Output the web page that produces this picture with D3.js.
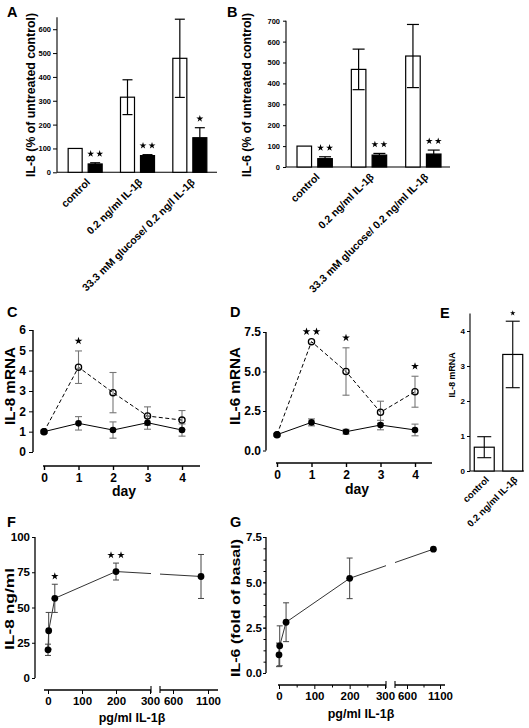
<!DOCTYPE html>
<html><head><meta charset="utf-8">
<script src="https://cdn.jsdelivr.net/npm/d3@7"></script>
<style>
body{margin:0;background:#fff}
svg{display:block}
text{font-family:"Liberation Sans",Arial,Helvetica,sans-serif;font-weight:bold;fill:#000}
</style></head><body>
<svg id="fig" width="529" height="728"></svg>
<script>
// ---------------- data ----------------
const catsA = ["control", "0.2 ng/ml IL-1β", "33.3 mM glucose/ 0.2 ng/l IL-1β"];
const il8WhiteA = [100, 315, 478];
const il8WhiteErrA = [0, 73, 164];
const il8BlackA = [35, 70, 145];
const il8BlackErrA = [5, 4, 42];
const il8StarsA = [2, 2, 1];
const ticksA = [0, 100, 200, 300, 400, 500, 600];

const catsB = ["control", "0.2 ng/ml IL-1β", "33.3 mM glucose/ 0.2 ng/ml IL-1β"];
const il6WhiteB = [100, 467, 531];
const il6WhiteErrB = [0, 97, 151];
const il6BlackB = [40, 57, 62];
const il6BlackErrB = [9, 8, 19];
const il6StarsB = [2, 2, 2];
const ticksB = [0, 100, 200, 300, 400, 500, 600, 700];

const days = [0, 1, 2, 3, 4];
const il8OpenC = [1.0, 4.17, 2.92, 1.77, 1.57];
const il8OpenErrC = [0, 0.8, 0.99, 0.45, 0.47];
const il8FilledC = [1.0, 1.41, 1.08, 1.44, 1.08];
const il8FilledErrC = [0.08, 0.33, 0.4, 0.32, 0.3];
const il8StarsC = [0, 1, 0, 0, 0];
const ticksC = [0, 1, 2, 3, 4, 5, 6];

const il6OpenD = [1.0, 6.89, 5.0, 2.42, 3.72];
const il6OpenErrD = [0, 0, 1.5, 0.7, 0.98];
const il6FilledD = [1.0, 1.78, 1.19, 1.61, 1.3];
const il6FilledErrD = [0.08, 0.22, 0.15, 0.3, 0.37];
const il6StarsD = [0, 2, 1, 0, 1];
const ticksD = [0, 2.5, 5, 7.5];

const catsE = ["control", "0.2 ng/ml IL-1β"];
const il8E = [0.68, 3.33];
const il8ErrE = [0.3, 0.95];
const il8StarsE = [0, 1];
const ticksE = [0, 1, 2, 3, 4];

const doses = [0, 2, 20, 200, 1000];
const il8F = [20, 33.5, 56.5, 75.5, 72];
const il8ErrF = [4, 13, 10, 6, 15.6];
const il8StarsF = [0, 0, 1, 2, 0];
const ticksFy = [0, 25, 50, 75, 100];
const il6G = [1.0, 1.5, 2.8, 5.22, 6.83];
const il6ErrG = [0.65, 1.1, 1.07, 1.12, 0];
const il6StarsG = [0, 0, 0, 0, 0];
const ticksGy = [0, 2.5, 5, 7.5];
const doseTicks1 = [0, 100, 200, 300];
const doseTicks2 = [600, 1100];

// ---------------- helpers ----------------
const FONT = '"Liberation Sans", Arial, Helvetica, sans-serif';
const fmtInt = d3.format("d");
const svg = d3.select("#fig");
svg.append("rect").attr("width", 529).attr("height", 728).attr("fill", "#fff");

function ln(x1, y1, x2, y2, stroke = "#000", w = 1.1) {
  return svg.append("line").attr("x1", x1).attr("y1", y1).attr("x2", x2).attr("y2", y2)
    .attr("stroke", stroke).attr("stroke-width", w);
}
function styleAxis(g, fs) {
  g.attr("font-size", fs).attr("font-family", FONT).attr("font-weight", "bold");
  g.select(".domain").remove();
  g.selectAll(".tick line").attr("stroke", "#000").attr("stroke-width", 1);
  g.selectAll(".tick text").attr("fill", "#000");
}
function panelLabel(t, x, y) {
  svg.append("text").attr("x", x).attr("y", y).attr("font-size", 14.5).text(t);
}
function yLabel(t, x, cy, fs, len) {
  const el = svg.append("text").attr("transform", `translate(${x},${cy}) rotate(-90)`)
    .attr("text-anchor", "middle").attr("font-size", fs).text(t);
  if (len) el.attr("textLength", len).attr("lengthAdjust", "spacingAndGlyphs");
}
function hLabel(t, cx, y, fs) {
  svg.append("text").attr("x", cx).attr("y", y).attr("text-anchor", "middle").attr("font-size", fs).text(t);
}
function addStars(n, cx, cy, size, gap) {
  for (let k = 0; k < n; k++) {
    svg.append("path").attr("d", d3.symbol(d3.symbolStar, size)())
      .attr("transform", `translate(${cx + (k - (n - 1) / 2) * gap},${cy})`).attr("fill", "#000");
  }
}
function errBar(x, y1, y2, cap, stroke, w) {
  ln(x, y1, x, y2, stroke, w);
  ln(x - cap / 2, y1, x + cap / 2, y1, stroke, w);
  ln(x - cap / 2, y2, x + cap / 2, y2, stroke, w);
}

// ---------------- bar panels A, B ----------------
function barPanel(c) {
  const y = d3.scaleLinear([0, c.yMax], c.yRange);
  const x0 = d3.scaleBand(c.cats, c.xRange).paddingInner(0.35).paddingOuter(0.175);
  const x1 = d3.scaleBand(["w", "b"], [0, x0.bandwidth()]).paddingInner(0.3);
  const bw = x1.bandwidth();
  const gy = svg.append("g").attr("transform", `translate(${c.axisX},0)`)
    .call(d3.axisLeft(y).tickValues(c.ticks).tickSize(c.tickSize).tickPadding(c.tickPad).tickSizeOuter(0).tickFormat(fmtInt));
  styleAxis(gy, c.tickFont);
  ln(c.axisX, y(0), c.axisX, y(c.yMax));
  ln(c.axisX, y(0), c.axisEnd, y(0));
  c.cats.forEach((cat, i) => {
    const xw = x0(cat) + x1("w"), xb = x0(cat) + x1("b");
    svg.append("rect").attr("x", xw).attr("y", y(c.white[i])).attr("width", bw)
      .attr("height", y(0) - y(c.white[i])).attr("fill", "#fff").attr("stroke", "#000").attr("stroke-width", 1.2);
    svg.append("rect").attr("x", xb).attr("y", y(c.black[i])).attr("width", bw)
      .attr("height", y(0) - y(c.black[i])).attr("fill", "#000").attr("stroke", "#000").attr("stroke-width", 1.2);
    if (c.whiteErr[i] > 0)
      errBar(xw + bw / 2, y(c.white[i] - c.whiteErr[i]), y(c.white[i] + c.whiteErr[i]), c.cap, "#000", 1.2);
    if (c.blackErr[i] > 0) {
      ln(xb + bw / 2, y(c.black[i]), xb + bw / 2, y(c.black[i] + c.blackErr[i]), "#000", 1.2);
      ln(xb + bw / 2 - c.cap / 2, y(c.black[i] + c.blackErr[i]), xb + bw / 2 + c.cap / 2, y(c.black[i] + c.blackErr[i]), "#000", 1.2);
    }
    addStars(c.stars[i], xb + bw / 2, y(c.black[i] + c.blackErr[i]) - 9, 15, 9);
    const cx = x0(cat) + x0.bandwidth() / 2;
    svg.append("text").attr("transform", `translate(${cx + 3},${y(0) + 8}) rotate(-45)`)
      .attr("text-anchor", "end").attr("dy", "0.35em").attr("font-size", c.catFont).text(cat);
  });
}

barPanel({cats: catsA, white: il8WhiteA, whiteErr: il8WhiteErrA, black: il8BlackA, blackErr: il8BlackErrA,
  stars: il8StarsA, ticks: ticksA, yMax: 650, yRange: [172.3, 17.3], xRange: [59, 216], axisX: 57, axisEnd: 217,
  tickSize: 4, tickPad: 2, tickFont: 7.5, cap: 10, catFont: 10.5});
barPanel({cats: catsB, white: il6WhiteB, whiteErr: il6WhiteErrB, black: il6BlackB, blackErr: il6BlackErrB,
  stars: il6StarsB, ticks: ticksB, yMax: 700, yRange: [167, 20.7], xRange: [287.5, 450.5], axisX: 286, axisEnd: 450,
  tickSize: 3, tickPad: 3, tickFont: 7.5, cap: 12, catFont: 10.5});
panelLabel("A", 7, 17);
panelLabel("B", 227, 17);
yLabel("IL-8 (% of untreated control)", 35, 95, 12, 164);
yLabel("IL-6 (% of untreated control)", 251, 95, 12, 164);

// ---------------- line panels C, D ----------------
function linePanel(c) {
  const y = d3.scaleLinear([0, c.yMax], c.yRange);
  const x = d3.scaleLinear([0, 4], c.xRange);
  const gy = svg.append("g").attr("transform", `translate(${c.axisX},0)`)
    .call(d3.axisLeft(y).tickValues(c.ticks).tickSize(c.tickSize).tickPadding(c.tickPad).tickSizeOuter(0).tickFormat(c.fmt));
  styleAxis(gy, 12);
  ln(c.axisX, y(0), c.axisX, y(c.yMax), "#000", 1.4);
  const gx = svg.append("g").attr("transform", `translate(0,${c.xAxisY})`)
    .call(d3.axisBottom(x).tickValues(days).tickSize(4).tickPadding(3).tickSizeOuter(0).tickFormat(fmtInt));
  styleAxis(gx, 12);
  gx.selectAll(".tick line").attr("stroke-width", 1.4);
  ln(c.xAxisExt[0], c.xAxisY, c.xAxisExt[1], c.xAxisY, "#000", 1.4);
  const lineGen = d3.line().x((d, i) => x(days[i])).y(d => y(d));
  svg.append("path").attr("d", lineGen(c.open)).attr("fill", "none").attr("stroke", "#000")
    .attr("stroke-width", 1).attr("stroke-dasharray", "4,2.5");
  svg.append("path").attr("d", lineGen(c.filled)).attr("fill", "none").attr("stroke", "#000").attr("stroke-width", 1);
  days.forEach((d, i) => {
    if (c.openErr[i] > 0) errBar(x(d), y(c.open[i] - c.openErr[i]), y(c.open[i] + c.openErr[i]), 7, "#777", 1.1);
    if (c.filledErr[i] > 0) errBar(x(d), y(c.filled[i] - c.filledErr[i]), y(c.filled[i] + c.filledErr[i]), 7, "#777", 1.1);
  });
  days.forEach((d, i) => {
    svg.append("circle").attr("cx", x(d)).attr("cy", y(c.open[i])).attr("r", 3.1)
      .attr("fill", "none").attr("stroke", "#000").attr("stroke-width", 1.3);
  });
  days.forEach((d, i) => {
    svg.append("circle").attr("cx", x(d)).attr("cy", y(c.filled[i])).attr("r", 3.3).attr("fill", "#000");
  });
  days.forEach((d, i) => {
    addStars(c.stars[i], x(d), y(c.open[i] + c.openErr[i]) - 10, 19, 10);
  });
}
linePanel({yMax: 6, yRange: [452, 330], xRange: [44, 182], axisX: 33, xAxisY: 466, xAxisExt: [43, 200],
  ticks: ticksC, fmt: fmtInt, tickSize: 4, tickPad: 3,
  open: il8OpenC, openErr: il8OpenErrC, filled: il8FilledC, filledErr: il8FilledErrC, stars: il8StarsC});
linePanel({yMax: 7.5, yRange: [450.5, 332], xRange: [277, 415], axisX: 266, xAxisY: 463, xAxisExt: [276, 432],
  ticks: ticksD, fmt: d3.format(".1f"), tickSize: 3, tickPad: 2,
  open: il6OpenD, openErr: il6OpenErrD, filled: il6FilledD, filledErr: il6FilledErrD, stars: il6StarsD});
panelLabel("C", 7, 317);
panelLabel("D", 230, 317);
yLabel("IL-8 mRNA", 15, 386, 14, 78);
yLabel("IL-6 mRNA", 240, 386, 14, 78);
hLabel("day", 124, 496, 14);
hLabel("day", 357, 494, 14);

// ---------------- bar panel E ----------------
{
  const y = d3.scaleLinear([0, 4.5], [471, 313.5]);
  const x = d3.scaleBand(catsE, [470, 527]).paddingInner(0.3).paddingOuter(0.15);
  const axisX = 470;
  const gy = svg.append("g").attr("transform", `translate(${axisX},0)`)
    .call(d3.axisLeft(y).tickValues(ticksE).tickSize(3).tickPadding(2).tickSizeOuter(0).tickFormat(fmtInt));
  styleAxis(gy, 8);
  ln(axisX, y(0), axisX, y(4.5));
  ln(axisX, y(0), 524, y(0));
  catsE.forEach((cat, i) => {
    svg.append("rect").attr("x", x(cat)).attr("y", y(il8E[i])).attr("width", x.bandwidth())
      .attr("height", y(0) - y(il8E[i])).attr("fill", "#fff").attr("stroke", "#000").attr("stroke-width", 1.2);
    const cx = x(cat) + x.bandwidth() / 2;
    errBar(cx, y(il8E[i] - il8ErrE[i]), y(il8E[i] + il8ErrE[i]), 14, "#000", 1.1);
    addStars(il8StarsE[i], cx, y(il8E[i] + il8ErrE[i]) - 8, 9, 7);
    svg.append("text").attr("transform", `translate(${cx + 3},${y(0) + 7}) rotate(-45)`)
      .attr("text-anchor", "end").attr("dy", "0.35em").attr("font-size", 9.5).text(cat);
  });
  panelLabel("E", 440, 318);
  yLabel("IL-8 mRNA", 455, 375, 9.5, 45);
}

// ---------------- dose panels F, G ----------------
let clipId = 0;
function dosePanel(c) {
  const y = d3.scaleLinear([0, c.yMax], c.yRange);
  const xa = d3.scaleLinear([0, 300], c.seg1);
  const xb = d3.scaleLinear([600, 1100], c.seg2);
  const x = v => (v <= 300 ? xa(v) : xb(v));
  const gy = svg.append("g").attr("transform", `translate(${c.axisX},0)`)
    .call(d3.axisLeft(y).tickValues(c.ticks).tickSize(c.tickSize).tickPadding(c.tickPad).tickSizeOuter(0).tickFormat(c.fmt));
  styleAxis(gy, 11.5);
  if (c.minorY) {
    const gm = svg.append("g").attr("transform", `translate(${c.axisX},0)`)
      .call(d3.axisLeft(y).tickValues(c.minorY).tickSize(2.5).tickFormat(""));
    styleAxis(gm, 8);
  }
  ln(c.axisX, y(0), c.axisX, y(c.yMax), "#000", 1.3);
  const g1 = svg.append("g").attr("transform", `translate(0,${c.xAxisY})`)
    .call(d3.axisBottom(xa).tickValues(doseTicks1).tickSize(4).tickPadding(3).tickSizeOuter(0).tickFormat(fmtInt));
  styleAxis(g1, 11.5);
  const g2 = svg.append("g").attr("transform", `translate(0,${c.xAxisY})`)
    .call(d3.axisBottom(xb).tickValues(doseTicks2).tickSize(4).tickPadding(3).tickSizeOuter(0).tickFormat(fmtInt));
  styleAxis(g2, 11.5);
  if (c.minorX1) {
    const m1 = svg.append("g").attr("transform", `translate(0,${c.xAxisY})`)
      .call(d3.axisBottom(xa).tickValues(c.minorX1).tickSize(2.5).tickFormat(""));
    styleAxis(m1, 8);
    const m2 = svg.append("g").attr("transform", `translate(0,${c.xAxisY})`)
      .call(d3.axisBottom(xb).tickValues(c.minorX2).tickSize(2.5).tickFormat(""));
    styleAxis(m2, 8);
  }
  ln(c.ax1[0], c.xAxisY, c.ax1[1], c.xAxisY, "#000", 1.3);
  ln(c.ax2[0], c.xAxisY, c.ax2[1], c.xAxisY, "#000", 1.3);
  ln(c.ax1[1], c.xAxisY - 4, c.ax1[1], c.xAxisY + 3, "#000", 1.1);
  ln(c.ax2[0], c.xAxisY - 4, c.ax2[0], c.xAxisY + 3, "#000", 1.1);
  const id = "clip" + (clipId++);
  const cp = svg.append("clipPath").attr("id", id);
  cp.append("rect").attr("x", 0).attr("y", 0).attr("width", c.ax1[1]).attr("height", 728);
  cp.append("rect").attr("x", c.ax2[0]).attr("y", 0).attr("width", 529 - c.ax2[0]).attr("height", 728);
  const pts = doses.map((d, i) => [x(d), y(c.vals[i])]);
  svg.append("path").attr("d", d3.line()(pts)).attr("fill", "none").attr("stroke", "#333")
    .attr("stroke-width", 1).attr("clip-path", `url(#${id})`);
  doses.forEach((d, i) => {
    if (c.errs[i] > 0) errBar(x(d), y(c.vals[i] - c.errs[i]), y(c.vals[i] + c.errs[i]), 6, "#444", 1);
  });
  doses.forEach((d, i) => {
    svg.append("circle").attr("cx", x(d)).attr("cy", y(c.vals[i])).attr("r", 3.4).attr("fill", "#000");
    addStars(c.stars[i], x(d), y(c.vals[i] + c.errs[i]) - 8, 17, 10);
  });
}
dosePanel({yMax: 100, yRange: [678, 537], seg1: [48, 150], seg2: [173, 208], axisX: 35, xAxisY: 690,
  ax1: [44, 151], ax2: [160, 218], ticks: ticksFy, fmt: fmtInt, tickSize: 3, tickPad: 2,
  vals: il8F, errs: il8ErrF, stars: il8StarsF});
dosePanel({yMax: 7.5, yRange: [673, 537], seg1: [279, 385], seg2: [407, 440], axisX: 266, xAxisY: 685,
  ax1: [278, 386], ax2: [395, 445], ticks: ticksGy, fmt: d3.format(".1f"), tickSize: 3, tickPad: 1,
  minorY: d3.range(0, 7.6, 0.625), minorX1: [50, 150, 250], minorX2: [850],
  vals: il6G, errs: il6ErrG, stars: il6StarsG});
panelLabel("F", 7, 527);
panelLabel("G", 230, 527);
yLabel("IL-8 ng/ml", 14, 609, 13.5, 82);
yLabel("IL-6 (fold of basal)", 240, 608, 13.5, 138);
hLabel("pg/ml IL-1β", 132, 722, 12.5);
hLabel("pg/ml IL-1β", 361, 718, 12.5);
</script>
</body></html>
